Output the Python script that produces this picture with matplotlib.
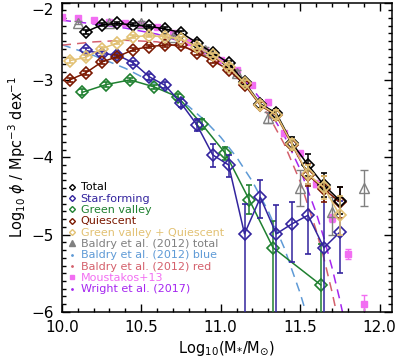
import matplotlib
matplotlib.use("Agg")
import matplotlib.pyplot as plt
from matplotlib.lines import Line2D
from matplotlib.ticker import MultipleLocator

# ---- data ----
tot_x = [10.15, 10.25, 10.35, 10.45, 10.55, 10.65, 10.75, 10.85, 10.95, 11.05,
         11.15, 11.25, 11.35, 11.45, 11.55, 11.65, 11.75]
tot_y = [-2.38, -2.29, -2.27, -2.29, -2.31, -2.34, -2.39, -2.52, -2.65, -2.78,
         -3.03, -3.31, -3.43, -3.82, -4.10, -4.36, -4.56]
tot_err = [0.03, 0.02, 0.02, 0.02, 0.02, 0.02, 0.02, 0.03, 0.03, 0.03,
           0.04, 0.05, 0.06, 0.08, 0.14, 0.16, 0.17]

sf_x = tot_x
sf_y = [-2.62, -2.66, -2.68, -2.78, -2.96, -3.07, -3.30, -3.58, -3.97, -4.10,
        -4.99, -4.52, -4.99, -4.86, -4.75, -5.17, -4.97]
sf_lo = [0.03, 0.03, 0.03, 0.03, 0.04, 0.04, 0.05, 0.08, 0.16, 0.15,
         3.0, 0.26, 3.0, 0.50, 0.50, 3.0, 0.53]
sf_hi = [0.03, 0.03, 0.03, 0.03, 0.04, 0.04, 0.05, 0.08, 0.14, 0.13,
         0.39, 0.22, 0.37, 0.28, 0.41, 0.81, 0.41]

gv_x = [10.13, 10.28, 10.43, 10.58, 10.73, 10.88, 11.03, 11.18, 11.33, 11.63]
gv_y = [-3.16, -3.06, -3.00, -3.09, -3.22, -3.57, -3.95, -4.55, -5.17, -5.65]
gv_lo = [0.04, 0.03, 0.03, 0.03, 0.04, 0.06, 0.09, 0.18, 3.0, 3.0]
gv_hi = [0.04, 0.03, 0.03, 0.03, 0.04, 0.06, 0.08, 0.19, 0.35, 0.53]

q_x = [10.05, 10.15, 10.25, 10.35, 10.45, 10.55, 10.65, 10.75, 10.85, 10.95,
       11.05, 11.15, 11.25, 11.35, 11.45, 11.55, 11.65, 11.75]
q_y = [-3.00, -2.91, -2.77, -2.70, -2.61, -2.57, -2.55, -2.55, -2.65, -2.75,
       -2.87, -3.06, -3.33, -3.46, -3.84, -4.23, -4.41, -4.58]
q_err = [0.03, 0.03, 0.02, 0.02, 0.02, 0.02, 0.02, 0.02, 0.03, 0.03,
         0.03, 0.04, 0.05, 0.06, 0.07, 0.14, 0.17, 0.20]

gvq_x = q_x
gvq_y = [-2.75, -2.71, -2.60, -2.52, -2.44, -2.43, -2.44, -2.47, -2.57, -2.68,
         -2.83, -3.04, -3.32, -3.45, -3.83, -4.22, -4.39, -4.75]
gvq_err = [0.03, 0.03, 0.02, 0.02, 0.02, 0.02, 0.02, 0.02, 0.03, 0.03,
           0.03, 0.04, 0.05, 0.06, 0.07, 0.12, 0.15, 0.25]

bt_x = [10.1, 10.3, 10.5, 10.7, 10.9, 11.1, 11.3, 11.5, 11.7, 11.9]
bt_y = [-2.26, -2.27, -2.26, -2.44, -2.61, -2.91, -3.49, -4.40, -4.71, -4.40]
bt_lo = [0.02, 0.02, 0.02, 0.02, 0.03, 0.04, 0.07, 0.23, 0.30, 0.23]
bt_hi = [0.02, 0.02, 0.02, 0.02, 0.03, 0.04, 0.07, 0.23, 0.20, 0.23]

bblue_x = [10.0, 10.2, 10.4, 10.6, 10.8, 10.9, 11.0, 11.1, 11.2, 11.3, 11.4, 11.5, 11.55]
bblue_y = [-2.545, -2.684, -2.851, -3.062, -3.345, -3.525, -3.740, -3.999,
           -4.314, -4.699, -5.171, -5.755, -6.096]

bred_x = [10.0, 10.2, 10.4, 10.6, 10.8, 10.9, 11.0, 11.1, 11.2, 11.3, 11.4,
          11.5, 11.6, 11.65, 11.7, 11.73]
bred_y = [-2.552, -2.509, -2.488, -2.508, -2.595, -2.677, -2.794, -2.954,
          -3.170, -3.455, -3.828, -4.312, -4.936, -5.308, -5.733, -6.014]

mou_x = [10.0, 10.1, 10.2, 10.3, 10.4, 10.5, 10.6, 10.7, 10.8, 10.9,
         11.0, 11.1, 11.2, 11.3, 11.4, 11.5, 11.6, 11.7, 11.8, 11.9]
mou_y = [-2.19, -2.20, -2.23, -2.25, -2.27, -2.28, -2.32, -2.39, -2.51, -2.61,
         -2.74, -2.87, -3.06, -3.29, -3.69, -3.95, -4.34, -4.79, -5.25, -5.90]
mou_err = [0.02, 0.02, 0.02, 0.02, 0.02, 0.02, 0.02, 0.02, 0.02, 0.02,
           0.02, 0.02, 0.02, 0.03, 0.03, 0.03, 0.04, 0.05, 0.06, 0.12]

wr_x = [10.0, 10.2, 10.4, 10.6, 10.8, 10.9, 11.0, 11.1, 11.2, 11.3, 11.4,
        11.5, 11.6, 11.65, 11.7, 11.75, 11.77]
wr_y = [-2.229, -2.276, -2.331, -2.409, -2.536, -2.630, -2.752, -2.910,
        -3.116, -3.380, -3.720, -4.155, -4.711, -5.044, -5.419, -5.843, -6.03]

yticks = [-6, -5, -4, -3, -2]
ytick_labels = ['\u22126', '\u22125', '\u22124', '\u22123', '\u22122']
xticks = [10.0, 10.5, 11.0, 11.5, 12.0]
xtick_labels = ['10.0', '10.5', '11.0', '11.5', '12.0']

c_tot = 'black'
c_sf = '#33249e'
c_gv = '#1f8030'
c_q = '#7a1800'
c_gvq = '#e2c173'
c_bt = '#808080'
c_bb = '#5e9ad6'
c_br = '#d4606c'
c_mou = '#f26ef2'
c_wr = '#a526f0'

fig = plt.figure(figsize=(3.99, 3.59), dpi=100)
ax = fig.add_axes([0.155, 0.131, 0.828, 0.862])

# model curves
ax.plot(bblue_x, bblue_y, color=c_bb, lw=1.1, dashes=(6, 4), zorder=1)
ax.plot(bred_x, bred_y, color=c_br, lw=1.1, dashes=(6, 4), zorder=1)
ax.plot(wr_x, wr_y, color=c_wr, lw=1.1, dashes=(6, 4), zorder=1)

# Moustakas+13
ax.errorbar(mou_x, mou_y, yerr=mou_err, fmt='s', color=c_mou, ms=4,
            elinewidth=1, capsize=2, zorder=2)

# Baldry total
ax.errorbar(bt_x, bt_y, yerr=[bt_lo, bt_hi], fmt='^', color=c_bt, mfc='none',
            ms=7.5, mew=1, elinewidth=1, capsize=3, zorder=3)

kw = dict(marker='D', mfc='none', ms=6.3, mew=1.2, lw=1.1, elinewidth=1.1, capsize=2.5)
ax.errorbar(gv_x, gv_y, yerr=[gv_lo, gv_hi], color=c_gv, zorder=4, **kw)
ax.errorbar(sf_x, sf_y, yerr=[sf_lo, sf_hi], color=c_sf, zorder=5, **kw)
ax.errorbar(q_x, q_y, yerr=q_err, color=c_q, zorder=6, **kw)
ax.errorbar(tot_x, tot_y, yerr=tot_err, color=c_tot, zorder=7, **kw)
ax.errorbar(gvq_x, gvq_y, yerr=gvq_err, color=c_gvq, zorder=8, **kw)

ax.set_xlim(10.0, 12.08)
ax.set_ylim(-6, -2)
ax.set_xticks(xticks)
ax.set_xticklabels(xtick_labels)
ax.set_yticks(yticks)
ax.set_yticklabels(ytick_labels)
ax.xaxis.set_minor_locator(MultipleLocator(0.1))
ax.yaxis.set_minor_locator(MultipleLocator(0.1))
ax.tick_params(which='both', direction='in', top=True, right=True, labelsize=11, width=1)
ax.tick_params(which='major', length=6, pad=6)
ax.tick_params(which='minor', length=3)
for s in ax.spines.values():
    s.set_linewidth(1.1)
# top label sits just under the frame edge, as in the original
ax.get_yticklabels()[-1].set_verticalalignment('top')

ax.set_xlabel(r'Log$_{10}$(M$_{*}$/M$_{\odot}$)', fontsize=10.5, labelpad=3)
ax.set_ylabel(r'Log$_{10}$ $\phi$ / Mpc$^{-3}$ dex$^{-1}$', fontsize=10.5, labelpad=2)

# legend
handles = [
    Line2D([], [], ls='none', marker='D', mfc='none', mec=c_tot, ms=3, mew=1),
    Line2D([], [], ls='none', marker='D', mfc='none', mec=c_sf, ms=3, mew=1),
    Line2D([], [], ls='none', marker='D', mfc='none', mec=c_gv, ms=3, mew=1),
    Line2D([], [], ls='none', marker='D', mfc='none', mec=c_q, ms=3, mew=1),
    Line2D([], [], ls='none', marker='D', mfc='none', mec=c_gvq, ms=3, mew=1),
    Line2D([], [], ls='none', marker='^', color=c_bt, ms=4),
    Line2D([], [], ls='none', marker='.', color=c_bb, ms=2),
    Line2D([], [], ls='none', marker='.', color=c_br, ms=2),
    Line2D([], [], ls='none', marker='s', color=c_mou, ms=3.5),
    Line2D([], [], ls='none', marker='.', color=c_wr, ms=2),
]
labels = ['Total', 'Star-forming', 'Green valley', 'Quiescent',
          'Green valley + Quiescent', 'Baldry et al. (2012) total',
          'Baldry et al. (2012) blue', 'Baldry et al. (2012) red',
          'Moustakos+13', 'Wright et al. (2017)']
colors = [c_tot, c_sf, c_gv, c_q, c_gvq, c_bt, c_bb, c_br, c_mou, c_wr]
leg = ax.legend(handles, labels, loc='lower left', bbox_to_anchor=(0.0, 0.035),
                frameon=False, fontsize=8, handlelength=0.6, handletextpad=0.5,
                labelspacing=0.12, borderaxespad=0.2)
for t, c in zip(leg.get_texts(), colors):
    t.set_color(c)

fig.savefig('out.png', dpi=100)
